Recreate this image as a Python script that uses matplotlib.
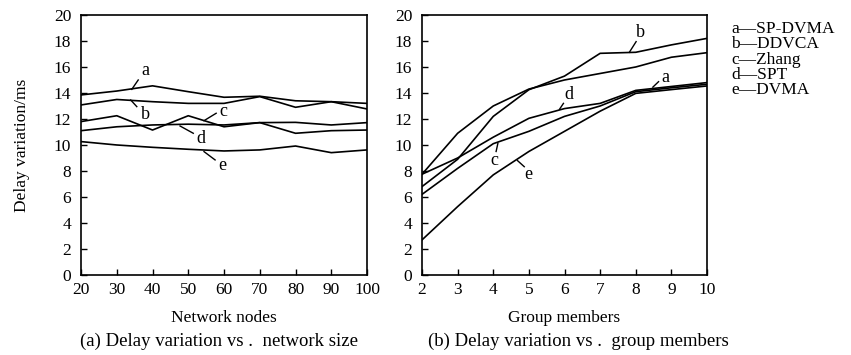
import numpy as np
import matplotlib.pyplot as plt

plt.rcParams['font.family'] = ['Liberation Serif', 'DejaVu Serif']
plt.rcParams['font.size'] = 12

#%% - Data, panel (a): delay variation vs. network size
nodes = [20, 30, 40, 50, 60, 70, 80, 90, 100]
size_a = [13.85, 14.15, 14.55, 14.1, 13.67, 13.75, 13.4, 13.33, 13.2]
size_b = [13.08, 13.5, 13.33, 13.2, 13.2, 13.72, 12.9, 13.33, 12.77]
size_c = [11.8, 12.25, 11.15, 12.25, 11.4, 11.72, 10.9, 11.1, 11.15]
size_d = [11.1, 11.4, 11.54, 11.6, 11.54, 11.72, 11.74, 11.54, 11.72]
size_e = [10.26, 10.0, 9.82, 9.67, 9.54, 9.62, 9.92, 9.41, 9.62]

#%% - Data, panel (b): delay variation vs. group members
members = [2, 3, 4, 5, 6, 7, 8, 9, 10]
grp_a = [7.75, 10.9, 13.0, 14.3, 15.0, 15.5, 16.0, 16.75, 17.1]
grp_b = [6.8, 8.9, 12.2, 14.25, 15.3, 17.05, 17.13, 17.7, 18.2]
grp_c = [6.2, 8.2, 10.1, 11.05, 12.2, 13.0, 14.1, 14.4, 14.67]
grp_d = [7.75, 9.0, 10.6, 12.05, 12.8, 13.2, 14.2, 14.5, 14.8]
grp_e = [2.7, 5.26, 7.7, 9.5, 11.05, 12.6, 13.97, 14.26, 14.54]

legend_lines = ['a\u2014SP-DVMA', 'b\u2014DDVCA', 'c\u2014Zhang', 'd\u2014SPT', 'e\u2014DVMA']

# letter labels: (letter, text position, leader start, leader end on curve)
labels_a = [('a', (37.9, 15.75), (36.0, 15.0), (34.2, 14.28)),
            ('b', (37.9, 12.35), (35.6, 12.95), (33.9, 13.46)),
            ('c', (59.8, 12.55), (57.8, 12.44), (54.4, 11.87)),
            ('d', (53.5, 10.5), (51.4, 10.9), (47.7, 11.46)),
            ('e', (59.6, 8.4), (57.5, 8.85), (54.4, 9.49))]
labels_b = [('b', (8.12, 18.65), (8.01, 17.95), (7.82, 17.13)),
            ('a', (8.82, 15.2), (8.64, 14.87), (8.48, 14.45)),
            ('d', (6.13, 13.85), (5.97, 13.2), (5.86, 12.75)),
            ('c', (4.02, 8.8), (4.08, 9.5), (4.13, 10.13)),
            ('e', (4.98, 7.75), (4.87, 8.33), (4.68, 8.8))]

fig = plt.figure(figsize=(8.51, 3.55), dpi=100)
ax1 = fig.add_axes([0.0952, 0.2254, 0.3361, 0.7324])
ax2 = fig.add_axes([0.4959, 0.2254, 0.3349, 0.7324])

for ys in [size_a, size_b, size_c, size_d, size_e]:
    ax1.plot(nodes, ys, color='black', lw=1.2)
for ys in [grp_a, grp_b, grp_c, grp_d, grp_e]:
    ax2.plot(members, ys, color='black', lw=1.2)

def put_labels(ax, labels):
    for txt, pos, p0, p1 in labels:
        ax.plot([p0[0], p1[0]], [p0[1], p1[1]], color='black', lw=1.0)
        ax.text(pos[0], pos[1], txt, ha='center', va='center', fontsize=13)

put_labels(ax1, labels_a)
put_labels(ax2, labels_b)

ax1.set_xlim(20, 100)
ax1.set_xticks(nodes)
ax2.set_xlim(2, 10)
ax2.set_xticks(members)
for ax in [ax1, ax2]:
    ax.set_ylim(0, 20)
    ax.set_yticks(np.arange(0, 21, 2))
    ax.tick_params(direction='in', length=4, width=1, labelsize=12.5)
    ax.tick_params(axis='x', pad=5)
    ax.tick_params(axis='y', pad=7)
    for sp in ax.spines.values():
        sp.set_linewidth(1.2)

ax1.set_ylabel('Delay variation/ms', fontsize=12.5, labelpad=17)
ax1.set_xlabel('Network nodes', fontsize=12.5, labelpad=9)
ax2.set_xlabel('Group members', fontsize=12.5, labelpad=9)

fig.text(0.257, 0.038, '(a) Delay variation vs .  network size', ha='center', va='center', fontsize=13.5)
fig.text(0.680, 0.038, '(b) Delay variation vs .  group members', ha='center', va='center', fontsize=13.5)

for i, s in enumerate(legend_lines):
    fig.text(0.859, 0.918 - i * 0.043, s, ha='left', va='center', fontsize=12.5)

fig.savefig('out.png', dpi=100)
